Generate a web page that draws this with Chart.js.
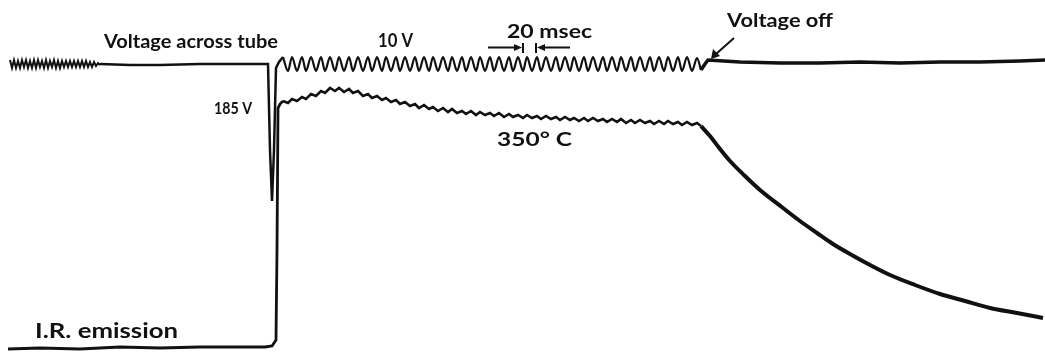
<!DOCTYPE html>
<html>
<head>
<meta charset="utf-8">
<script src="https://cdn.jsdelivr.net/npm/chart.js@4"></script>
<style>
html,body{margin:0;padding:0;background:#fff;}
#wrap{width:1045px;height:356px;position:relative;}
</style>
</head>
<body>
<div id="wrap"><canvas id="chart"></canvas></div>
<script>
// Oscillogram: voltage across tube (top) and I.R. emission (bottom)
// x = sweep position, y = trace deflection (same units, y grows downward)

// left end of voltage trace, compressed hatching
const squiggleX=[10,12,14,16,18,20,22,24,26,28,30,32,34,36,38,40,42,44,46,48,50,52,54,56,58,60,62,64,66,68,70,72,74,76,78,80,82,84,86,88,90,92,94,96,98,100];
const squiggleY=[60,68,60,68,61,68,60,67,60,68,61,68,60,68,60,67,61,68,60,68,61,67,60,68,61,68,61,67,61,67,61,67,61,67,61,67,61,67,61,67,62,67,62,66,63,65];

// baseline and the 185 V spike
const leadX=[100,130,160,200,240,268,270,272,274,276,279,283];
const leadY=[64,65,65,64,64,64,150,201,150,68,62,57];

// 10 V ripple (peaks and troughs), shared sweep positions for both traces
const cycleX=[283,288,292,297,302,306,311,316,321,325,330,335,339,344,349,353,358,363,368,372,377,382,386,391,396,400,405,410,415,419,424,429,433,438,443,448,452,457,462,466,471,476,480,485,490,494,499,504,509,513,518,523,527,532,537,541,546,551,556,560,565,570,574,579,584,588,593,598,603,607,612,617,621,626,631,635,640,645,650,654,659,664,668,673,678,682,687,692,697,701];
const voltWaveY=[57,71,57,71,57,71,57,71,57,71,57,71,57,71,57,71,57,71,57,71,57,71,57,71,57,71,57,71,57,71,57,71,57,71,57,71,57,71,57,71,57,71,57,71,57,71,57,71,57,71,57,71,57,71,57,71,57,71,57,71,57,71,57,71,57,71,57,71,57,71,57,71,57,71,57,71,57,71,57,71,57,71,57,71,57,71,57,71,58,70];

// after voltage off
const offX=[701,705,708,740,780,820,860,900,940,980,1020,1045];
const offY=[70,64,60,62,63,63,62,63,62,62,61,60];

// I.R. emission: baseline and rise
const irBaseX=[8,40,80,120,160,200,240,265,272,276,277,278,280,283];
const irBaseY=[349,348,349,347,348,347,347,347,346,340,250,108,104,101];
// I.R. emission: plateau with ripple (at cycleX)
const irRippleY=[101,103,99,101,97,99,94,96,91,93,88,91,88,92,89,93,91,96,94,98,96,100,98,102,100,104,102,106,104,108,105,109,107,111,108,112,109,113,111,114,111,115,112,115,113,116,113,117,114,117,115,118,115,118,116,119,116,119,117,120,117,120,118,121,118,121,118,121,119,122,119,122,119,123,120,123,120,123,121,124,121,124,121,124,122,125,122,125,123,126];
// I.R. emission: decay after voltage off
const decayX=[701,710,720,730,745,760,783,800,817,833,850,870,890,915,940,965,990,1017,1043];
const decayY=[126,136,149,161,176,190,208,221,233,244,254,265,275,285,294,301,308,313,318];

const pts=(xs,ys)=>xs.map((x,i)=>({x:x,y:ys[i]}));

// text labels drawn on top (x,y = left end of baseline, w = text width)
const notes=[
    {text:"Voltage across tube",x:104,y:48,size:18,w:174},
    {text:"10 V",x:378,y:47,size:18,w:35},
    {text:"20 msec",x:507,y:38,size:19,w:85},
    {text:"Voltage off",x:727,y:27,size:18,w:106},
    {text:"185 V",x:214,y:114,size:17,w:38},
    {text:"350° C",x:497,y:146,size:18,w:75},
    {text:"I.R. emission",x:35,y:338,size:20,w:143}
];

const ink="#111";

const labelPlugin={
    id:"labels",
    afterDraw(chart){
        const c=chart.ctx, sx=chart.scales.x, sy=chart.scales.y;
        const X=v=>sx.getPixelForValue(v), Y=v=>sy.getPixelForValue(v);
        c.save();
        c.fillStyle=ink;
        c.strokeStyle=ink;
        c.textBaseline="alphabetic";
        notes.forEach(n=>{
            c.font="bold "+n.size+"px Lato";
            const natural=c.measureText(n.text).width;
            const k=(X(n.x+n.w)-X(n.x))/natural;
            c.save();
            c.translate(X(n.x),Y(n.y));
            c.scale(k,1);
            c.fillText(n.text,0,0);
            c.restore();
        });

        // 20 msec marker  ->|  |<-
        c.lineWidth=2;
        c.beginPath();
        c.moveTo(X(488),Y(47.5));c.lineTo(X(518),Y(47.5));
        c.moveTo(X(523),Y(43));c.lineTo(X(523),Y(53));
        c.moveTo(X(536),Y(43));c.lineTo(X(536),Y(53));
        c.moveTo(X(541),Y(47.5));c.lineTo(X(570),Y(47.5));
        c.stroke();
        c.beginPath();
        c.moveTo(X(522),Y(47.5));c.lineTo(X(514),Y(44));c.lineTo(X(514),Y(51));c.closePath();
        c.moveTo(X(537),Y(47.5));c.lineTo(X(545),Y(44));c.lineTo(X(545),Y(51));c.closePath();
        c.fill();

        // arrow to "Voltage off" point
        c.beginPath();
        c.moveTo(X(734),Y(38));c.lineTo(X(716),Y(54));
        c.stroke();
        c.beginPath();
        c.moveTo(X(711),Y(59));c.lineTo(X(713),Y(49));c.lineTo(X(720),Y(56));c.closePath();
        c.fill();
        c.restore();
    }
};

const ds=(data,w,extra)=>Object.assign({data:data,borderColor:ink,borderWidth:w,pointRadius:0,fill:false,tension:0},extra||{});

new Chart(document.getElementById("chart"),{
    type:"line",
    data:{
        datasets:[
            ds(pts(squiggleX,squiggleY),2),
            ds(pts(leadX,leadY),2.5),
            ds(pts(cycleX,voltWaveY),2.2,{cubicInterpolationMode:"monotone"}),
            ds(pts(offX,offY),3.5),
            ds(pts(irBaseX,irBaseY),2.8),
            ds(pts(cycleX,irRippleY),2.6),
            ds(pts(decayX,decayY),4,{cubicInterpolationMode:"monotone"})
        ]
    },
    options:{
        responsive:true,
        maintainAspectRatio:false,
        animation:false,
        layout:{padding:0},
        plugins:{legend:{display:false},tooltip:{enabled:false}},
        scales:{
            x:{type:"linear",min:0,max:1045,display:false},
            y:{type:"linear",min:0,max:356,reverse:true,display:false}
        }
    },
    plugins:[labelPlugin]
});
</script>
</body>
</html>
